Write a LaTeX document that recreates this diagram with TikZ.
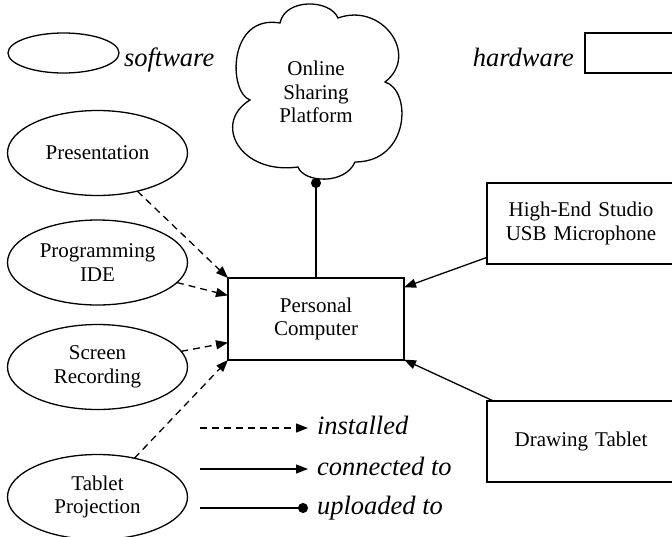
\documentclass[tikz,border=0pt]{standalone}
\usepackage{fontspec}
\setmainfont{Liberation Serif}
\usetikzlibrary{shapes.geometric,arrows.meta}
\tikzset{
  every node/.style={inner sep=0pt, outer sep=0pt},
  lbl/.style={align=center, font=\fontsize{21}{23.5}\selectfont},
  legtxt/.style={font=\fontsize{26.5}{30}\selectfont\itshape},
  sw/.style={lbl, draw, ellipse, line width=1.3pt, minimum width=180pt, minimum height=85pt},
  hw/.style={lbl, draw, rectangle, line width=1.3pt},
  cloudline/.style={line width=1.3pt, line join=miter},
  inst/.style={line width=1.3pt, dash pattern=on 7pt off 5pt, -{Triangle[length=12pt,width=9pt]}},
  conn/.style={line width=1.3pt, -{Triangle[length=12pt,width=9pt]}},
  upl/.style={line width=1.3pt, -{Circle[length=10pt]}},
}
\begin{document}
\begin{tikzpicture}[x=1pt,y=-1pt]
\useasboundingbox (0,0) rectangle (672,536);
% legend
\node[draw, ellipse, line width=1.3pt, minimum width=111pt, minimum height=40pt] (swleg) at (63.5,53) {};
\node[legtxt, anchor=base west] (swtxt) at (124,66) {software};
\node[legtxt, anchor=base east] (hwtxt) at (574,66) {hardware};
\node[hw, minimum width=90pt, minimum height=40pt] (hwleg) at (630,53) {};
% cloud
\draw[cloudline] (250,100)
  .. controls (228,92) and (228,14) .. (280,23)
  .. controls (285,-2) and (330,-1) .. (338,18)
  .. controls (382,2) and (420,55) .. (385,82)
  .. controls (412,90) and (410,162) .. (355,162)
  .. controls (345,185) and (304,183) .. (298,167)
  .. controls (240,175) and (212,123) .. cycle;
\node[lbl, minimum width=168pt, minimum height=172pt] (cloud) at (316,92) {Online\\Sharing\\Platform};
% software
\node[sw] (pres) at (97.5,153) {Presentation};
\node[sw] (prog) at (97.5,262.5) {Programming\\IDE};
\node[sw] (scr) at (97.5,367) {Screen\\Recording};
\node[sw] (tab) at (97.5,497) {Tablet\\Projection};
% hardware
\node[hw, minimum width=176pt, minimum height=82pt] (pc) at (316,319) {Personal\\Computer};
\node[hw, minimum width=188pt, minimum height=81pt, text width=188pt] (mic) at (581,223.5) {High-End Studio\\USB Microphone};
\node[hw, minimum width=188pt, minimum height=81pt, text width=188pt] (drw) at (581,441.5) {Drawing Tablet};
% connectors
\draw[upl] (pc.north) -- (cloud.south);
\draw[conn] (mic) -- (pc);
\draw[conn] (drw) -- (pc);
\draw[inst] (pres) -- (pc.north west);
\draw[inst] (prog) -- (pc.165);
\draw[inst] (scr) -- (pc.195);
\draw[inst] (tab) -- (pc.south west);
% legend lines
\coordinate (a1) at (200,428); \coordinate (b1) at (308,428);
\coordinate (a2) at (200,469); \coordinate (b2) at (308,469);
\coordinate (a3) at (200,508); \coordinate (b3) at (308,508);
\draw[inst] (a1) -- (b1);
\draw[conn] (a2) -- (b2);
\draw[upl] (a3) -- (b3);
\node[legtxt, anchor=base west] (t1) at (317,434) {installed};
\node[legtxt, anchor=base west] (t2) at (317,475) {connected to};
\node[legtxt, anchor=base west] (t3) at (317,514) {uploaded to};
\end{tikzpicture}
\end{document}
